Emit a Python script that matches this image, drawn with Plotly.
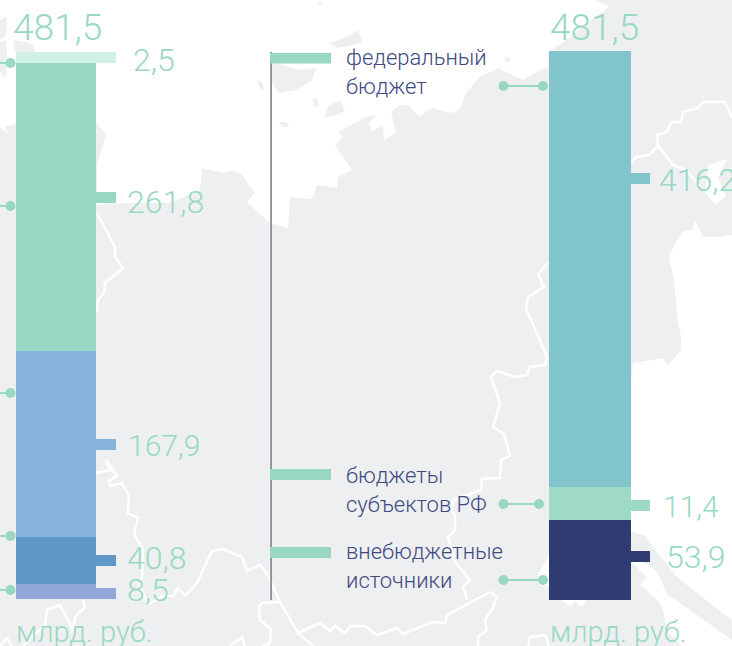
import plotly.graph_objects as go

# ---- data (values as printed; drawn heights: the
# source infographic does not draw its segments strictly to scale)
left_total = "481,5"
left_labels = ["8,5", "40,8", "167,9", "261,8", "2,5"]
left_heights = [13.2, 41.4, 163.7, 253.5, 9.7]
left_colors = ["#93A8D8", "#6098C8", "#85B3D9", "#98D8C2", "#D1F0E7"]

right_total = "481,5"
right_labels = ["53,9", "11,4", "416,2"]
right_heights = [70.2, 28.9, 382.4]
right_colors = ["#2F3C72", "#9FDAC8", "#82C4CB"]

unit_label = "млрд. руб."
legend_lines = ["федеральный<br>бюджет", "бюджеты<br>субъектов РФ", "внебюджетные<br>источники"]

W, H = 732, 646
GREY = "#EEEFF1"
TXT = "#99D9C2"
NAVY = "#3D4A82"
NUM_FONT = "Roboto"
NUM_WEIGHT = 300

def path(pts, close=True):
    return "M" + " L".join(f"{x},{y}" for x, y in pts) + (" Z" if close else "")

# ---- decorative map, in page pixels
white_polys = [
    [(0,0),(0,127),(8,134),(5,127),(16,124),(96,123),(106,135),(97,165),(97,205),(128,203),(170,203),(200,190),(202,168),(223,173),(233,170),(242,175),(255,193),(247,202),(270,223),(288,228),(290,197),(312,199),(317,185),(337,188),(338,177),(352,170),(343,157),(335,145),(343,137),(338,132),(366,117),(376,115),(369,123),(371,132),(383,125),(384,141),(396,132),(391,112),(399,105),(409,105),(419,117),(426,112),(433,108),(451,113),(459,110),(466,93),(479,78),(498,68),(523,80),(549,66),(552,50),(569,38),(609,7),(596,0)],
    [(631,532),(631,381),(633,363),(663,358),(668,365),(681,350),(681,336),(678,323),(674,280),(669,257),(672,250),(682,232),(692,230),(695,220),(703,237),(720,237),(732,235),(732,620),(693,590),(675,575),(645,536),(637,533)],
    [(727,159),(708,165),(705,193),(716,205),(726,195),(718,178)],
    [(631,552),(657,572),(668,595),(690,610),(732,640),(732,646),(682,646),(668,632),(662,607),(657,600),(640,585),(647,577),(631,562)],
    [(551,550),(538,575),(540,585),(551,587)],
    [(560,599),(570,607),(575,601),(581,607),(587,599)],
]
grey_islands = [
    [(272,62),(300,70),(316,68),(312,80),(296,90),(278,93),(271,80)],
    [(257,80),(262,82),(265,91),(260,88)],
    [(313,98),(318,100),(318,108),(314,105)],
    [(325,117),(328,106),(340,100),(345,110),(338,115)],
    [(279,122),(287,122),(289,127),(282,127)],
    [(330,43),(347,37),(358,30),(363,43),(337,48)],
    [(0,20),(7,17),(6,35),(0,40)],
    [(0,42),(6,40),(8,62),(5,78),(0,72)],
    [(13,40),(25,42),(33,44),(36,55),(16,55)],
    [(318,1),(322,1),(322,5),(318,5)],
    [(505,57),(510,57),(510,62),(505,62)],
]
border_lines = [
    [(97,213),(115,247),(115,257),(123,268),(105,283),(104,293),(98,300),(97,312)],
    [(96,473),(110,470),(106,460),(117,476),(109,481),(110,486),(122,483),(129,496),(128,513),(138,518),(134,533),(143,550),(142,576),(140,586),(148,605),(163,596),(173,596),(178,588),(185,596),(197,583),(212,551),(223,549),(242,557),(247,571),(260,565),(268,575),(280,602),(298,633),(320,623),(330,631),(335,626),(345,633),(350,626),(365,626),(377,635),(397,628),(403,634),(432,622),(445,623),(447,615),(490,592)],
    [(298,633),(313,646)],
    [(280,602),(262,603),(259,607),(260,620),(271,629),(270,643),(262,646)],
    [(467,600),(463,587),(470,580),(455,562),(448,537),(455,530),(455,517),(452,510),(453,500),(481,490),(482,479),(500,478),(501,460),(510,456),(504,434),(493,427),(500,403),(491,377),(497,371),(515,377),(527,375),(530,367),(545,365),(547,357),(526,308),(528,297),(544,287),(538,274),(548,263)],
    [(83,600),(85,607),(75,617),(73,630),(60,605),(47,610),(45,625),(23,646)],
    [(0,646),(7,638),(12,646)],
    [(230,646),(242,637),(245,646)],
    [(490,592),(497,597),(493,607),(490,612),(485,620),(487,630),(478,637),(478,646)],
    [(528,646),(530,637),(545,635),(549,646)],
    [(631,163),(636,157),(649,155),(658,146),(657,135),(667,132),(671,122),(681,122),(683,112),(698,108),(703,102),(725,102),(732,118)],
    [(658,146),(673,165),(686,170),(700,186)],
]

shapes = [dict(type="rect", x0=0, x1=W, y0=0, y1=H, xref="x", yref="y", fillcolor=GREY, line_width=0, layer="below")]
for p in white_polys:
    shapes.append(dict(type="path", path=path(p), xref="x", yref="y", fillcolor="#FFFFFF", line_width=0, layer="below"))
for p in grey_islands:
    shapes.append(dict(type="path", path=path(p), xref="x", yref="y", fillcolor=GREY, line_width=0, layer="below"))
for p in border_lines:
    shapes.append(dict(type="path", path=path(p, False), xref="x", yref="y", line=dict(color="#FFFFFF", width=2.5), layer="below"))

def tab(x0, x1, y0, y1, color):
    shapes.append(dict(type="rect", x0=x0, x1=x1, y0=y0, y1=y1, xref="x", yref="y", fillcolor=color, line_width=0, layer="below"))

# tabs beside the bars
for (y0, y1), c in zip([(588,599),(555,566),(439,450),(192,203),(52,63)], left_colors):
    tab(96, 116, y0, y1, c)
for (y0, y1), c in zip([(551,562),(500,511),(173,184)], right_colors):
    tab(631, 650, y0, y1, c)
# legend rule and tabs
tab(270.2, 272, 52, 600, "#8E8F93")
for y0, y1 in [(53,63.5),(469,480),(547,558)]:
    tab(270, 331, y0, y1, "#98D8C2")

fig = go.Figure()

# pixel overlay for connectors
connector_rows = [
    ([0, 10.5], 63), ([0, 10.5], 206), ([0, 10.5], 393), ([0, 10.5], 536), ([0, 10.5], 590),
    ([503.5, 543], 86), ([503.5, 539], 504), ([503.5, 543], 580),
]
for xs, y in connector_rows:
    fig.add_trace(go.Scatter(
        x=xs, y=[y, y], mode="lines+markers", xaxis="x", yaxis="y", showlegend=False, hoverinfo="skip",
        line=dict(color="#98D8C2", width=2),
        marker=dict(color=["rgba(0,0,0,0)" if v == 0 else "#98D8C2" for v in xs], size=10, line_width=0),
    ))

for h, lab, c in zip(left_heights, left_labels, left_colors):
    fig.add_trace(go.Bar(x=[0], y=[h], name=lab, marker=dict(color=c, line_width=0),
                         xaxis="x2", yaxis="y2", showlegend=False))
for h, lab, c in zip(right_heights, right_labels, right_colors):
    fig.add_trace(go.Bar(x=[0], y=[h], name=lab, marker=dict(color=c, line_width=0),
                         xaxis="x3", yaxis="y3", showlegend=False))

def ann(text, x, y, size, color=TXT, family=NUM_FONT, weight=NUM_WEIGHT):
    return dict(text=text, x=x, y=y, xref="x", yref="y", xanchor="left", yanchor="middle", align="left",
                showarrow=False, borderpad=0, font=dict(family=family, size=size, color=color, weight=weight))

annotations = [ann(left_total, 12, 27, 37), ann(right_total, 549, 27, 37),
               ann(unit_label, 15, 632, 29), ann(unit_label, 549, 632, 29)]
left_pos = [(126,590,32),(126,558,32),(127,445,30),(126,202,32),(132,60,32)]
for lab, (x, y, s) in zip(left_labels, left_pos):
    annotations.append(ann(lab, x, y, s))
right_pos = [(665,557,32),(662,506,30),(658,180,32)]
for lab, (x, y, s) in zip(right_labels, right_pos):
    annotations.append(ann(lab, x, y, s))
for lab, y in zip(legend_lines, [72, 490, 566]):
    annotations.append(ann(lab, 345, y, 22, color=NAVY))

def hidden(**kw):
    return dict(visible=False, fixedrange=True, **kw)

fig.update_layout(
    width=W, height=H, autosize=False,
    margin=dict(l=0, r=0, t=0, b=0, pad=0),
    paper_bgcolor="#FFFFFF", plot_bgcolor="rgba(0,0,0,0)",
    barmode="stack", bargap=0,
    shapes=shapes, annotations=annotations,
    xaxis=hidden(domain=[0, 1], range=[0, W]),
    yaxis=hidden(domain=[0, 1], range=[H, 0]),
    xaxis2=hidden(domain=[16/W, 96/W], range=[-0.5, 0.5], anchor="y2"),
    yaxis2=hidden(domain=[(H-599)/H, (H-52)/H], range=[0, 481.5], anchor="x2"),
    xaxis3=hidden(domain=[549/W, 631/W], range=[-0.5, 0.5], anchor="y3"),
    yaxis3=hidden(domain=[(H-600)/H, (H-51)/H], range=[0, 481.5], anchor="x3"),
)

fig.write_html("out.html", config={"displayModeBar": False},
               post_script="document.body.style.margin='0';document.body.style.overflow='hidden';")
